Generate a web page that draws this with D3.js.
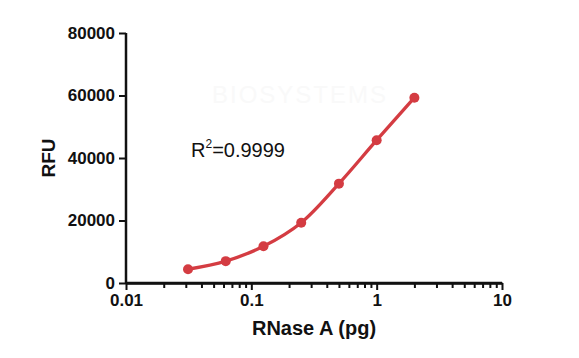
<!DOCTYPE html>
<html><head><meta charset="utf-8">
<script src="https://cdn.jsdelivr.net/npm/d3@7"></script>
<style>body{margin:0;background:#fff}svg{display:block}text{font-family:"Liberation Sans",Arial,sans-serif}</style>
</head><body>
<script>
const doses = [0.03125, 0.0625, 0.125, 0.25, 0.5, 1, 2];
const rfu = [4400, 7000, 11750, 19300, 31800, 45700, 59300];
const yTicks = [0, 20000, 40000, 60000, 80000];
const xTicks = [0.01, 0.1, 1, 10];
const xTickLabels = ["0.01", "0.1", "1", "10"];

const W = 579, H = 358;
const svg = d3.select("body").append("svg").attr("width", W).attr("height", H);
const x = d3.scaleLog().domain([0.01, 10]).range([126, 502]);
const y = d3.scaleLinear().domain([0, 80000]).range([283, 33]);

// very faint watermark
svg.append("text").attr("x", 300).attr("y", 103).attr("text-anchor", "middle")
  .attr("font-size", 24).attr("fill", "#f9f9f9").attr("letter-spacing", 2).text("BIOSYSTEMS");

const black = "#111";
const ya = svg.append("g").attr("transform", "translate(126,0)")
  .call(d3.axisLeft(y).tickValues(yTicks).tickFormat(d3.format("d")).tickSize(7).tickPadding(4));
const minor = [];
for (let e = -2; e < 1; e++) for (let k = 2; k <= 9; k++) minor.push(k * Math.pow(10, e));
svg.append("g").attr("transform", "translate(0,283)")
  .call(d3.axisBottom(x).tickValues(minor).tickFormat("").tickSize(5).tickSizeOuter(0));
const xa = svg.append("g").attr("transform", "translate(0,283)")
  .call(d3.axisBottom(x).tickValues(xTicks).tickFormat((d, i) => xTickLabels[i]).tickSize(7).tickPadding(4));
svg.selectAll(".domain").attr("stroke", black).attr("stroke-width", 2.5);
svg.selectAll(".tick line").attr("stroke", black).attr("stroke-width", 2);
svg.selectAll(".tick text").attr("font-size", 17).attr("font-weight", "bold").attr("fill", black)
  .attr("font-family", "'Liberation Sans',Arial,sans-serif");
ya.select(".domain").attr("d", "M0,283V33");
xa.select(".domain").attr("d", "M126,0H502");

svg.append("text").attr("x", 314).attr("y", 335).attr("text-anchor", "middle")
  .attr("font-size", 20).attr("font-weight", "bold").attr("fill", black).text("RNase A (pg)");
svg.append("text").attr("transform", "translate(55,158) rotate(-90)").attr("text-anchor", "middle")
  .attr("font-size", 19).attr("font-weight", "bold").attr("fill", black).text("RFU");

const r2 = svg.append("text").attr("x", 191).attr("y", 157).attr("font-size", 20).attr("fill", black);
r2.append("tspan").text("R");
r2.append("tspan").attr("font-size", 12).attr("dy", -9).text("2");
r2.append("tspan").attr("dy", 9).text("=0.9999");

const red = "#d43c42";
const pts = doses.map((d, i) => [x(d), y(rfu[i])]);
svg.append("path").attr("d", d3.line().curve(d3.curveCatmullRom.alpha(0.5))(pts))
  .attr("fill", "none").attr("stroke", red).attr("stroke-width", 3.3);
svg.selectAll("circle.p").data(pts).enter().append("circle")
  .attr("cx", d => d[0]).attr("cy", d => d[1]).attr("r", 5).attr("fill", red);
</script>
</body></html>
